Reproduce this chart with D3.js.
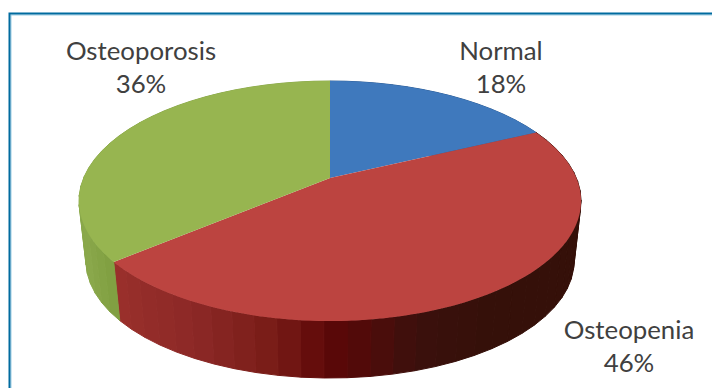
<!DOCTYPE html>
<html>
<head>
<meta charset="utf-8">
<script src="https://cdn.jsdelivr.net/npm/d3@7"></script>
<style>
html, body { margin: 0; padding: 0; background: #fff; overflow: hidden; }
svg { display: block; }
text { font-family: Lato, sans-serif; fill: #404040; text-anchor: middle; }
</style>
</head>
<body>
<script>
// Bone density categories, clockwise from twelve o'clock
const categories = ["Normal", "Osteopenia", "Osteoporosis"];
const shares = [18, 46, 36];
const topColors = ["#3f79bd", "#bc4440", "#97b550"];
// Wall shading: position along each slice's arc and the tone found there
const wallPositions = [
  [0, 1],
  [0, 0.5, 0.59, 0.635, 0.70, 0.73, 0.78, 0.86, 1],
  [0, 0.12, 1]
];
const wallTones = [
  ["#2f5f98", "#2f5f98"],
  ["#351009", "#351009", "#3a100c", "#4a0d0b", "#5c0707", "#6c1311", "#7d1f1a", "#8c2826", "#9a302c"],
  ["#7f9f40", "#8aa84b", "#8aa84b"]
];
const labelAnchors = [[501, 60], [629, 339], [141, 60]];

const width = 712, height = 388;
const svg = d3.select("body").append("svg").attr("width", width).attr("height", height);
svg.append("rect").attr("width", width).attr("height", height).attr("fill", "#fff");

// Card border: dark rule with a pale inner edge, open at right and bottom
const border = d3.path();
border.moveTo(9.5, height); border.lineTo(9.5, 13.5); border.lineTo(width, 13.5);
const borderInner = d3.path();
borderInner.moveTo(11, height); borderInner.lineTo(11, 15); borderInner.lineTo(width, 15);
svg.append("path").attr("d", borderInner.toString()).attr("fill", "none").attr("stroke", "#9ccde4").attr("stroke-width", 1);
svg.append("path").attr("d", border.toString()).attr("fill", "none").attr("stroke", "#006b9f").attr("stroke-width", 2);

// Perspective projection of the disc: the hub sits above the middle of the ellipse
const hub = { x: 330, y: 178 };
const tilt = -0.1917, spreadX = 246.4, spreadY = 115.6;
const depthScale = 0.972, floorHubY = 239;

function projectTop(angle) {
  const u = Math.sin(angle), v = -Math.cos(angle);
  const d = 1 + tilt * v;
  return [hub.x + spreadX * u / d, hub.y + spreadY * v / d];
}
function projectFloor(angle) {
  const [x, y] = projectTop(angle);
  return [hub.x + depthScale * (x - hub.x), floorHubY + depthScale * (y - hub.y)];
}

const slices = d3.pie().sort(null).value(d => d)(shares);
const outline = d3.line();

// Walls are built from narrow flat facets, each with its own tone
const facetStep = 4.6 * Math.PI / 180;
const wallLayer = svg.append("g");
slices.forEach((s, i) => {
  const span = s.endAngle - s.startAngle;
  const tone = d3.scaleLinear().domain(wallPositions[i]).range(wallTones[i]);
  const count = Math.ceil(span / facetStep);
  d3.range(count).forEach(k => {
    const a0 = s.startAngle + k * span / count;
    const a1 = s.startAngle + (k + 1) * span / count;
    const pts = [projectTop(a0), projectTop(a1), projectFloor(a1), projectFloor(a0)];
    const c = tone((k + 0.5) / count);
    wallLayer.append("path")
      .attr("d", outline(pts) + "Z")
      .attr("fill", c)
      .attr("stroke", c)
      .attr("stroke-width", 1);
  });
});

// Top face wedges
slices.forEach((s, i) => {
  const arcPts = d3.range(0, 121).map(k => projectTop(s.startAngle + k * (s.endAngle - s.startAngle) / 120));
  svg.append("path")
    .attr("d", outline([[hub.x, hub.y], ...arcPts]) + "Z")
    .attr("fill", topColors[i]);
});

// Two-line category labels
categories.forEach((name, i) => {
  const [x, y] = labelAnchors[i];
  svg.append("text").attr("x", x).attr("y", y).attr("font-size", 25.8).text(name);
  svg.append("text").attr("x", x).attr("y", y + 33).attr("font-size", 25.8).text(shares[i] + "%");
});
</script>
</body>
</html>
